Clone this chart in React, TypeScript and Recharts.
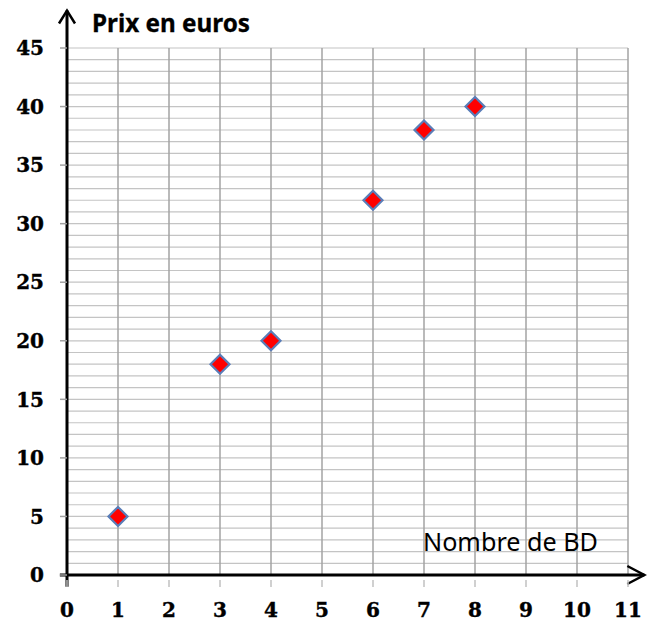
import React from "react";
import { ScatterChart, Scatter, XAxis, YAxis, CartesianGrid, ReferenceLine } from "recharts";

const nbBD = [1, 3, 4, 6, 7, 8];
const prix = [5, 18, 20, 32, 38, 40];
const xTicks = [0, 1, 2, 3, 4, 5, 6, 7, 8, 9, 10, 11];
const yGridTicks = Array.from({ length: 46 }, (_, i) => i);
const yLabelTicks = [0, 5, 10, 15, 20, 25, 30, 35, 40, 45];
const yTitle = "Prix en euros";
const xTitle = "Nombre de BD";

const data = nbBD.map((x, i) => ({ x, y: prix[i] }));

const labelFont = "'DejaVu Serif', serif";
const titleFont = "'Noto Sans', 'Liberation Sans', sans-serif";

const XTick = (props: any) => {
  const { x, y, payload } = props;
  return (
    <g>
      <line x1={x} x2={x} y1={y + 5} y2={y + 12} stroke="#c0c0c0" strokeWidth={1.5} />
      <text x={x} y={y + 42} textAnchor="middle" fontFamily={labelFont} fontWeight="bold" fontSize={20} fill="#000" stroke="#000" strokeWidth={0.4}>
        {payload.value}
      </text>
    </g>
  );
};

const YTick = (props: any) => {
  const { x, y, payload } = props;
  if (!yLabelTicks.includes(payload.value)) return <g />;
  return (
    <g>
      <line x1={x - 7} x2={x} y1={y} y2={y} stroke="#a0a0a0" strokeWidth={1.5} />
      <text x={x - 23} y={y} dy="0.36em" textAnchor="end" fontFamily={labelFont} fontWeight="bold" fontSize={20} fill="#000" stroke="#000" strokeWidth={0.4}>
        {payload.value}
      </text>
    </g>
  );
};

const Diamond = (props: any) => {
  const { cx, cy } = props;
  const r = 9.5;
  return (
    <path
      d={`M${cx},${cy - r}L${cx + r},${cy}L${cx},${cy + r}L${cx - r},${cy}Z`}
      fill="#ff0000"
      stroke="#5a7db8"
      strokeWidth={2.2}
    />
  );
};

const YAxisArrow = (props: any) => {
  const { x1, y1, x2, y2 } = props;
  return (
    <g>
      <line x1={x1} y1={y1} x2={x2} y2={y2} stroke="#000" strokeWidth={3} />
      <polyline
        points={`${x2 - 8},${y2 + 13} ${x2},${y2} ${x2 + 8},${y2 + 13}`}
        fill="none"
        stroke="#000"
        strokeWidth={2.5}
      />
    </g>
  );
};

const XAxisArrow = (props: any) => {
  const { x1, y1, x2, y2 } = props;
  return (
    <g>
      <line x1={x1} y1={y1} x2={x2} y2={y2} stroke="#000" strokeWidth={3} />
      <polyline
        points={`${x2 - 17},${y2 - 9} ${x2},${y2} ${x2 - 17},${y2 + 9}`}
        fill="none"
        stroke="#000"
        strokeWidth={2.5}
      />
    </g>
  );
};

export default function App() {
  return (
    <div style={{ position: "absolute", left: 0, top: 0, background: "#fff" }}>
      <ScatterChart width={656} height={623} margin={{ top: 48, right: 28, bottom: 0, left: 0 }}>
        <CartesianGrid vertical={false} stroke="#c4c4c4" strokeWidth={1.2} />
        <CartesianGrid horizontal={false} stroke="#a3a3a3" strokeWidth={1.5} />
        <XAxis
          type="number"
          dataKey="x"
          domain={[0, 11]}
          ticks={xTicks}
          interval={0}
          height={48}
          axisLine={false}
          tickLine={false}
          tickSize={0}
          tickMargin={0}
          tick={<XTick />}
        />
        <YAxis
          type="number"
          dataKey="y"
          domain={[0, 45]}
          ticks={yGridTicks}
          interval={0}
          width={67}
          axisLine={false}
          tickLine={false}
          tickSize={0}
          tickMargin={0}
          tick={<YTick />}
        />
        <ReferenceLine
          segment={[{ x: 0, y: -1 }, { x: 0, y: 48.2 }]}
          ifOverflow="visible"
          shape={<YAxisArrow />}
        />
        <ReferenceLine
          segment={[{ x: -0.14, y: 0 }, { x: 11.32, y: 0 }]}
          ifOverflow="visible"
          shape={<XAxisArrow />}
        />
        <Scatter data={data} shape={<Diamond />} isAnimationActive={false} />
        <text x={92} y={32} fontFamily={titleFont} fontWeight="bold" fontSize={25} textLength={158} lengthAdjust="spacingAndGlyphs" fill="#000" stroke="#000" strokeWidth={0.3}>
          {yTitle}
        </text>
        <text x={423} y={551} fontFamily={titleFont} fontSize={25} textLength={175} lengthAdjust="spacingAndGlyphs" fill="#000">
          {xTitle}
        </text>
      </ScatterChart>
    </div>
  );
}
